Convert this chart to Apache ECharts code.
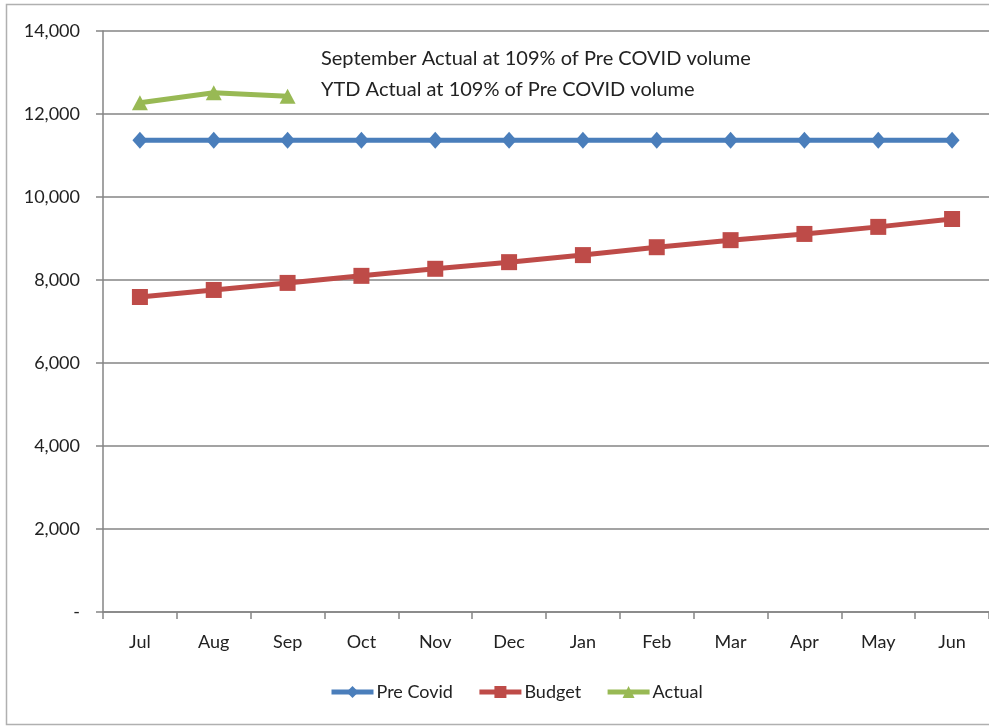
<!DOCTYPE html>
<html>
<head>
<meta charset="utf-8">
<script src="https://cdn.jsdelivr.net/npm/echarts@6/dist/echarts.min.js"></script>
<style>
  html, body { margin: 0; padding: 0; background: #fff; }
  #chart { width: 989px; height: 726px; }
</style>
</head>
<body>
<div id="chart"></div>
<script>
// values
const months = ['Jul', 'Aug', 'Sep', 'Oct', 'Nov', 'Dec', 'Jan', 'Feb', 'Mar', 'Apr', 'May', 'Jun'];
const preCovid = [11370, 11370, 11370, 11370, 11370, 11370, 11370, 11370, 11370, 11370, 11370, 11370];
const budget = [7590, 7760, 7930, 8100, 8270, 8430, 8600, 8790, 8960, 9110, 9280, 9470];
const actual = [12270, 12510, 12430];
const notes = ['September Actual at 109% of Pre COVID volume', 'YTD Actual at 109% of Pre COVID volume'];

const font = 'Lato, "Open Sans", sans-serif';
const axisGray = '#858585';

const chart = echarts.init(document.getElementById('chart'));

chart.setOption({
  animation: false,
  backgroundColor: '#fff',
  textStyle: { fontFamily: font, color: '#222' },
  grid: { left: 103, top: 31, right: -2, bottom: 114 },
  legend: {
    bottom: 20,
    left: 324,
    itemWidth: 42,
    itemHeight: 15,
    itemGap: 24,
    lineStyle: { width: 5 },
    textStyle: { fontSize: 18, color: '#222', fontFamily: font, padding: [0, 0, 0, -2] },
    data: ['Pre Covid', 'Budget', 'Actual'],
  },
  graphic: [
    {
      type: 'rect',
      shape: { x: 6.5, y: 4.5, width: 1000, height: 720 },
      style: { fill: 'none', stroke: '#b0b0b0', lineWidth: 1.5 },
      silent: true,
    },
    {
      type: 'text',
      left: 321,
      top: 49,
      style: { text: notes[0], fontSize: 20, fontFamily: font, fill: '#222' },
    },
    {
      type: 'text',
      left: 321,
      top: 80,
      style: { text: notes[1], fontSize: 20, fontFamily: font, fill: '#222' },
    },
  ],
  xAxis: {
    type: 'category',
    data: months,
    boundaryGap: true,
    axisLine: { lineStyle: { color: axisGray, width: 1.5 } },
    axisTick: { show: true, length: 7, inside: false, lineStyle: { color: axisGray, width: 1.5 } },
    axisLabel: { fontSize: 18, color: '#222', margin: 21, fontFamily: font },
    splitLine: { show: false },
  },
  yAxis: {
    type: 'value',
    min: 0,
    max: 14000,
    interval: 2000,
    axisLine: { show: true, lineStyle: { color: axisGray, width: 1.5 } },
    axisTick: { show: true, length: 7, lineStyle: { color: axisGray, width: 1.5 } },
    axisLabel: {
      fontSize: 18,
      color: '#222',
      margin: 23,
      fontFamily: font,
      formatter: v => (v === 0 ? '-' : v.toLocaleString('en-US')),
    },
    splitLine: { show: true, lineStyle: { color: axisGray, width: 1.5 } },
  },
  series: [
    {
      name: 'Pre Covid',
      type: 'line',
      data: preCovid,
      symbol: 'diamond',
      symbolSize: [15, 17],
      lineStyle: { width: 5, color: '#4a7ebb' },
      itemStyle: { color: '#4a7ebb' },
    },
    {
      name: 'Budget',
      type: 'line',
      data: budget,
      symbol: 'rect',
      symbolSize: 16,
      lineStyle: { width: 5, color: '#be4b48' },
      itemStyle: { color: '#be4b48' },
    },
    {
      name: 'Actual',
      type: 'line',
      data: actual,
      symbol: 'triangle',
      symbolSize: [16, 15],
      lineStyle: { width: 5, color: '#98b954' },
      itemStyle: { color: '#98b954' },
    },
  ],
});
</script>
</body>
</html>
